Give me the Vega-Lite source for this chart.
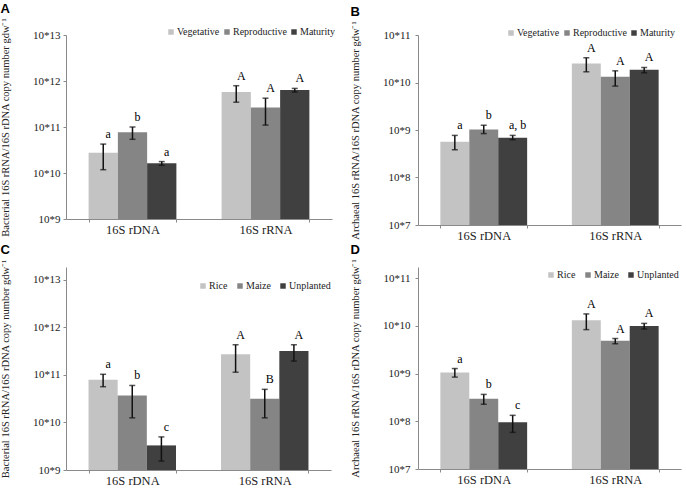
{
  "$schema": "https://vega.github.io/schema/vega-lite/v6.json",
  "background": "white",
  "padding": {"left": 0, "top": 2, "right": 2, "bottom": 0},
  "data": {"values": [
    {"panel": "A", "group": "16S rDNA", "series": "Vegetative", "value": 2.74e10, "lo": 1.18e10, "hi": 4.25e10, "label": "a"},
    {"panel": "A", "group": "16S rDNA", "series": "Reproductive", "value": 7.7e10, "lo": 5.4e10, "hi": 1.0e11, "label": "b"},
    {"panel": "A", "group": "16S rDNA", "series": "Maturity", "value": 1.63e10, "lo": 1.47e10, "hi": 1.77e10, "label": "a"},
    {"panel": "A", "group": "16S rRNA", "series": "Vegetative", "value": 5.74e11, "lo": 3.46e11, "hi": 7.9e11, "label": "A"},
    {"panel": "A", "group": "16S rRNA", "series": "Reproductive", "value": 2.64e11, "lo": 1.1e11, "hi": 4.23e11, "label": "A"},
    {"panel": "A", "group": "16S rRNA", "series": "Maturity", "value": 6.35e11, "lo": 5.74e11, "hi": 6.9e11, "label": "A"},
    {"panel": "B", "group": "16S rDNA", "series": "Vegetative", "value": 5.67e8, "lo": 3.84e8, "hi": 7.7e8, "label": "a"},
    {"panel": "B", "group": "16S rDNA", "series": "Reproductive", "value": 1.03e9, "lo": 8.4e8, "hi": 1.26e9, "label": "b"},
    {"panel": "B", "group": "16S rDNA", "series": "Maturity", "value": 6.89e8, "lo": 6.25e8, "hi": 7.7e8, "label": "a, b"},
    {"panel": "B", "group": "16S rRNA", "series": "Vegetative", "value": 2.52e10, "lo": 1.68e10, "hi": 3.32e10, "label": "A"},
    {"panel": "B", "group": "16S rRNA", "series": "Reproductive", "value": 1.32e10, "lo": 8.4e9, "hi": 1.76e10, "label": "A"},
    {"panel": "B", "group": "16S rRNA", "series": "Maturity", "value": 1.85e10, "lo": 1.6e10, "hi": 2.07e10, "label": "A"},
    {"panel": "C", "group": "16S rDNA", "series": "Rice", "value": 7.88e10, "lo": 5.65e10, "hi": 1.03e11, "label": "a"},
    {"panel": "C", "group": "16S rDNA", "series": "Maize", "value": 3.68e10, "lo": 1.25e10, "hi": 6.0e10, "label": "b"},
    {"panel": "C", "group": "16S rDNA", "series": "Unplanted", "value": 3.29e9, "lo": 1.54e9, "hi": 4.97e9, "label": "c"},
    {"panel": "C", "group": "16S rRNA", "series": "Rice", "value": 2.72e11, "lo": 1.14e11, "hi": 4.31e11, "label": "A"},
    {"panel": "C", "group": "16S rRNA", "series": "Maize", "value": 3.14e10, "lo": 1.25e10, "hi": 4.97e10, "label": "B"},
    {"panel": "C", "group": "16S rRNA", "series": "Unplanted", "value": 3.19e11, "lo": 1.95e11, "hi": 4.31e11, "label": "A"},
    {"panel": "D", "group": "16S rDNA", "series": "Rice", "value": 1.05e9, "lo": 8.4e8, "hi": 1.27e9, "label": "a"},
    {"panel": "D", "group": "16S rDNA", "series": "Maize", "value": 2.97e8, "lo": 2.27e8, "hi": 3.65e8, "label": "b"},
    {"panel": "D", "group": "16S rDNA", "series": "Unplanted", "value": 9.5e7, "lo": 5.85e7, "hi": 1.33e8, "label": "c"},
    {"panel": "D", "group": "16S rRNA", "series": "Rice", "value": 1.31e10, "lo": 8.3e9, "hi": 1.77e10, "label": "A"},
    {"panel": "D", "group": "16S rRNA", "series": "Maize", "value": 4.84e9, "lo": 4.2e9, "hi": 5.4e9, "label": "A"},
    {"panel": "D", "group": "16S rRNA", "series": "Unplanted", "value": 9.84e9, "lo": 8.55e9, "hi": 1.12e10, "label": "A"}
  ]},
  "columns": 2,
  "spacing": {"row": 1, "column": 15},
  "resolve": {"scale": {"x": "independent", "y": "independent", "color": "independent", "xOffset": "independent"}},
  "concat": [
    {
      "title": {"text": "A"},
      "width": 266, "height": 184,
      "transform": [{"filter": "datum.panel === 'A'"}],
      "encoding": {
        "x": {"field": "group", "type": "nominal", "scale": {"paddingInner": 0.34, "paddingOuter": 0.17}, "axis": {"title": null, "labelAngle": 0, "tickBand": "extent", "labelFont": "Liberation Serif", "labelFontSize": 12.5, "tickSize": 3, "labelPadding": 1}},
        "xOffset": {"field": "series", "type": "nominal", "sort": ["Vegetative", "Reproductive", "Maturity"], "scale": {"paddingInner": 0, "paddingOuter": 0}}
      },
      "layer": [
        {"mark": {"type": "bar"}, "encoding": {
          "y": {"field": "value", "type": "quantitative", "scale": {"type": "log", "domain": [1e9, 1e13], "nice": false}, "axis": {"title": "Bacterial 16S rRNA/16S rDNA copy number gdw⁻¹", "titleFont": "Liberation Serif", "labelFont": "Liberation Serif", "values": [1e9, 1e10, 1e11, 1e12, 1e13], "labelExpr": "'10*' + round(log(datum.value)/LN10)"}},
          "y2": {"datum": 1e9},
          "color": {"field": "series", "type": "nominal", "sort": ["Vegetative", "Reproductive", "Maturity"], "scale": {"range": ["#c3c3c3", "#858585", "#404040"]}, "legend": {"title": null, "labelFont": "Liberation Serif", "orient": "none", "legendX": 100, "legendY": -8}}
        }},
        {"mark": {"type": "rule", "color": "#111", "strokeWidth": 1.5}, "encoding": {"y": {"field": "lo", "type": "quantitative"}, "y2": {"field": "hi"}}},
        {"mark": {"type": "tick", "color": "#111", "size": 6, "thickness": 1.5}, "encoding": {"y": {"field": "lo", "type": "quantitative"}}},
        {"mark": {"type": "tick", "color": "#111", "size": 6, "thickness": 1.5}, "encoding": {"y": {"field": "hi", "type": "quantitative"}}},
        {"mark": {"type": "text", "baseline": "bottom", "dy": -3, "dx": 5, "font": "Liberation Serif", "fontSize": 12}, "encoding": {"y": {"field": "hi", "type": "quantitative"}, "text": {"field": "label"}}}
      ]
    },
    {
      "title": {"text": "B"},
      "width": 263, "height": 190,
      "transform": [{"filter": "datum.panel === 'B'"}],
      "encoding": {
        "x": {"field": "group", "type": "nominal", "scale": {"paddingInner": 0.34, "paddingOuter": 0.17}, "axis": {"title": null, "labelAngle": 0, "tickBand": "extent", "labelFont": "Liberation Serif", "labelFontSize": 12.5, "tickSize": 3, "labelPadding": 1}},
        "xOffset": {"field": "series", "type": "nominal", "sort": ["Vegetative", "Reproductive", "Maturity"], "scale": {"paddingInner": 0, "paddingOuter": 0}}
      },
      "layer": [
        {"mark": {"type": "bar"}, "encoding": {
          "y": {"field": "value", "type": "quantitative", "scale": {"type": "log", "domain": [1e7, 1e11], "nice": false}, "axis": {"title": "Archaeal 16S rRNA/16S rDNA copy number gdw⁻¹", "titleFont": "Liberation Serif", "labelFont": "Liberation Serif", "labelPadding": 5, "values": [1e7, 1e8, 1e9, 1e10, 1e11], "labelExpr": "'10*' + round(log(datum.value)/LN10)"}},
          "y2": {"datum": 1e7},
          "color": {"field": "series", "type": "nominal", "sort": ["Vegetative", "Reproductive", "Maturity"], "scale": {"range": ["#c3c3c3", "#858585", "#404040"]}, "legend": {"title": null, "labelFont": "Liberation Serif", "orient": "none", "legendX": 88, "legendY": -7}}
        }},
        {"mark": {"type": "rule", "color": "#111", "strokeWidth": 1.5}, "encoding": {"y": {"field": "lo", "type": "quantitative"}, "y2": {"field": "hi"}}},
        {"mark": {"type": "tick", "color": "#111", "size": 6, "thickness": 1.5}, "encoding": {"y": {"field": "lo", "type": "quantitative"}}},
        {"mark": {"type": "tick", "color": "#111", "size": 6, "thickness": 1.5}, "encoding": {"y": {"field": "hi", "type": "quantitative"}}},
        {"mark": {"type": "text", "baseline": "bottom", "dy": -3, "dx": 5, "font": "Liberation Serif", "fontSize": 12}, "encoding": {"y": {"field": "hi", "type": "quantitative"}, "text": {"field": "label"}}}
      ]
    },
    {
      "title": {"text": "C"},
      "width": 265, "height": 203,
      "transform": [{"filter": "datum.panel === 'C'"}],
      "encoding": {
        "x": {"field": "group", "type": "nominal", "scale": {"paddingInner": 0.34, "paddingOuter": 0.17}, "axis": {"title": null, "labelAngle": 0, "tickBand": "extent", "labelFont": "Liberation Serif", "labelFontSize": 12.5, "tickSize": 3, "labelPadding": 1}},
        "xOffset": {"field": "series", "type": "nominal", "sort": ["Rice", "Maize", "Unplanted"], "scale": {"paddingInner": 0, "paddingOuter": 0}}
      },
      "layer": [
        {"mark": {"type": "bar"}, "encoding": {
          "y": {"field": "value", "type": "quantitative", "scale": {"type": "log", "domain": [1e9, 1.86e13], "nice": false}, "axis": {"title": "Bacterial 16S rRNA/16S rDNA copy number gdw⁻¹", "titleFont": "Liberation Serif", "labelFont": "Liberation Serif", "values": [1e9, 1e10, 1e11, 1e12, 1e13], "labelExpr": "'10*' + round(log(datum.value)/LN10)"}},
          "y2": {"datum": 1e9},
          "color": {"field": "series", "type": "nominal", "sort": ["Rice", "Maize", "Unplanted"], "scale": {"range": ["#c3c3c3", "#858585", "#404040"]}, "legend": {"title": null, "labelFont": "Liberation Serif", "columnPadding": 7, "orient": "none", "legendX": 132, "legendY": 14}}
        }},
        {"mark": {"type": "rule", "color": "#111", "strokeWidth": 1.5}, "encoding": {"y": {"field": "lo", "type": "quantitative"}, "y2": {"field": "hi"}}},
        {"mark": {"type": "tick", "color": "#111", "size": 6, "thickness": 1.5}, "encoding": {"y": {"field": "lo", "type": "quantitative"}}},
        {"mark": {"type": "tick", "color": "#111", "size": 6, "thickness": 1.5}, "encoding": {"y": {"field": "hi", "type": "quantitative"}}},
        {"mark": {"type": "text", "baseline": "bottom", "dy": -3, "dx": 5, "font": "Liberation Serif", "fontSize": 12}, "encoding": {"y": {"field": "hi", "type": "quantitative"}, "text": {"field": "label"}}}
      ]
    },
    {
      "title": {"text": "D"},
      "width": 263, "height": 202,
      "transform": [{"filter": "datum.panel === 'D'"}],
      "encoding": {
        "x": {"field": "group", "type": "nominal", "scale": {"paddingInner": 0.34, "paddingOuter": 0.17}, "axis": {"title": null, "labelAngle": 0, "tickBand": "extent", "labelFont": "Liberation Serif", "labelFontSize": 12.5, "tickSize": 3, "labelPadding": 1}},
        "xOffset": {"field": "series", "type": "nominal", "sort": ["Rice", "Maize", "Unplanted"], "scale": {"paddingInner": 0, "paddingOuter": 0}}
      },
      "layer": [
        {"mark": {"type": "bar"}, "encoding": {
          "y": {"field": "value", "type": "quantitative", "scale": {"type": "log", "domain": [1e7, 1.7e11], "nice": false}, "axis": {"title": "Archaeal 16S rRNA/16S rDNA copy number gdw⁻¹", "titleFont": "Liberation Serif", "labelFont": "Liberation Serif", "labelPadding": 5, "values": [1e7, 1e8, 1e9, 1e10, 1e11], "labelExpr": "'10*' + round(log(datum.value)/LN10)"}},
          "y2": {"datum": 1e7},
          "color": {"field": "series", "type": "nominal", "sort": ["Rice", "Maize", "Unplanted"], "scale": {"range": ["#c3c3c3", "#858585", "#404040"]}, "legend": {"title": null, "labelFont": "Liberation Serif", "columnPadding": 7, "orient": "none", "legendX": 128, "legendY": 3}}
        }},
        {"mark": {"type": "rule", "color": "#111", "strokeWidth": 1.5}, "encoding": {"y": {"field": "lo", "type": "quantitative"}, "y2": {"field": "hi"}}},
        {"mark": {"type": "tick", "color": "#111", "size": 6, "thickness": 1.5}, "encoding": {"y": {"field": "lo", "type": "quantitative"}}},
        {"mark": {"type": "tick", "color": "#111", "size": 6, "thickness": 1.5}, "encoding": {"y": {"field": "hi", "type": "quantitative"}}},
        {"mark": {"type": "text", "baseline": "bottom", "dy": -3, "dx": 5, "font": "Liberation Serif", "fontSize": 12}, "encoding": {"y": {"field": "hi", "type": "quantitative"}, "text": {"field": "label"}}}
      ]
    }
  ],
  "config": {
    "view": {"stroke": null},
    "font": "Liberation Serif",
    "axis": {"labelFont": "Liberation Serif", "titleFont": "Liberation Serif", "domainColor": "#8a8a8a", "tickColor": "#8a8a8a", "labelColor": "#222", "titleColor": "#222", "grid": false, "titleFontWeight": "normal"},
    "axisY": {"labelFontSize": 11, "titleFontSize": 10.5, "titlePadding": 22, "tickSize": 3, "labelPadding": 3},
    "legend": {"direction": "horizontal", "symbolType": "square", "symbolSize": 30, "symbolStrokeWidth": 0, "labelFont": "Liberation Serif", "labelFontSize": 10, "labelColor": "#222", "columnPadding": 2, "labelOffset": 1},
    "title": {"anchor": "start", "frame": "bounds", "font": "Liberation Sans", "fontSize": 13, "fontWeight": "bold", "offset": 2, "color": "#000"}
  }
}
